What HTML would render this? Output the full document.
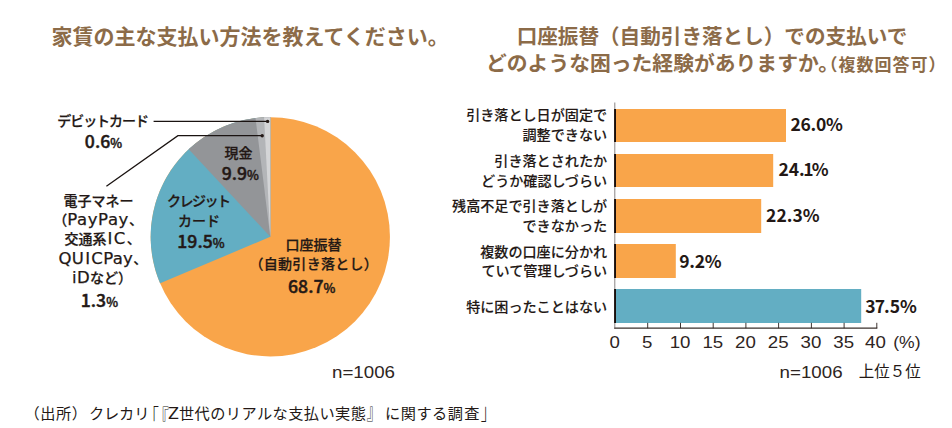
<!DOCTYPE html>
<html lang="ja"><head><meta charset="utf-8"><title>家賃の支払い方法</title>
<style>
html,body{margin:0;padding:0;background:#fff;}
body{width:952px;height:428px;overflow:hidden;}
svg{display:block;}
text{font-family:"Liberation Sans","Noto Sans CJK JP",sans-serif;fill:#231815;}
.t{font-family:"Noto Sans CJK JP","Liberation Sans",sans-serif;font-weight:700;fill:#8C6B48;font-size:20px;}
.l{font-family:"Noto Sans CJK JP","Liberation Sans",sans-serif;font-weight:500;font-size:14px;stroke:#231815;stroke-width:.25px;}
.b{font-family:"Noto Sans CJK JP","Liberation Sans",sans-serif;font-weight:500;stroke:#231815;stroke-width:.45px;}
.d{font-family:"DejaVu Sans","Liberation Sans",sans-serif;font-weight:400;font-size:16.5px;letter-spacing:.3px;}
.s{font-family:"Noto Sans CJK JP","Liberation Sans",sans-serif;font-weight:400;font-size:15.2px;letter-spacing:.55px;}
.a{font-family:"Liberation Sans",sans-serif;font-size:16.8px;fill:#2e2522;}
</style></head><body>
<svg width="952" height="428" viewBox="0 0 952 428">
<rect width="952" height="428" fill="#fff"/>
<!-- titles -->
<text class="t" x="250.2" y="44.4" text-anchor="middle" style="font-size:21px">家賃の主な支払い方法を教えてください。</text>
<text class="t" x="712" y="44" text-anchor="middle" style="font-size:20.6px">口座振替（自動引き落とし）での支払いで</text>
<text class="t" x="486" y="71" style="font-size:20.8px">どのような困った経験がありますか。</text>
<text class="t" x="820.4" y="70.5" style="font-size:17px;letter-spacing:1px">（複数回答可）</text>
<!-- pie -->
<circle cx="270.3" cy="236.8" r="119.65" fill="#F9A54A"/>
<path d="M270.3,236.8 L160.08,283.36 A119.65,119.65 0 0 1 270.30,117.15 Z" fill="#63AEC3"/>
<path d="M270.3,236.8 L188.70,149.29 A119.65,119.65 0 0 1 270.30,117.15 Z" fill="#939598"/>
<path d="M270.3,236.8 L255.51,118.07 A119.65,119.65 0 0 1 270.30,117.15 Z" fill="#B3B5B8"/>
<path d="M270.3,236.8 L264.08,117.31 A119.65,119.65 0 0 1 270.30,117.15 Z" fill="#D4D5D7"/>
<g stroke="#1a1311" stroke-width="1.3" fill="none">
<polyline points="153.6,121.4 267.6,121.4"/>
<polyline points="106.4,186.3 177.9,135.7 262.2,135.7"/>
</g>
<circle cx="267.6" cy="121.4" r="1.7" fill="#231815"/>
<circle cx="262.2" cy="135.7" r="1.7" fill="#231815"/>
<!-- pie labels -->
<text class="l" x="102.6" y="126" text-anchor="middle" style="letter-spacing:-1.05px">デビットカード</text>
<text class="b" x="103.5" y="148.2" text-anchor="middle" font-size="17.6" style="letter-spacing:.05px">0.6<tspan font-size="12.6">%</tspan></text>
<text class="l" x="98.6" y="205.5" text-anchor="middle">電子マネー</text>
<text class="l" x="53.2" y="225.3">（<tspan class="d" style="letter-spacing:.6px">PayPay</tspan>、</text>
<text class="l" x="64.4" y="244.2">交通系<tspan class="d" dx="1" style="letter-spacing:1.5px">IC</tspan>、</text>
<text class="l" x="58.5" y="263.8"><tspan class="d">QU</tspan><tspan class="d" dx="1">I</tspan><tspan class="d" dx="1">CPay</tspan>、</text>
<text class="l" x="72" y="283"><tspan class="d">iD</tspan>など）</text>
<text class="b" x="99.4" y="306.9" text-anchor="middle" font-size="17.6" style="letter-spacing:.05px">1.3<tspan font-size="12.6">%</tspan></text>
<text class="l" x="238.6" y="158.3" text-anchor="middle">現金</text>
<text class="b" x="240.3" y="180.3" text-anchor="middle" font-size="17.6" style="letter-spacing:.05px">9.9<tspan font-size="12.6">%</tspan></text>
<text class="l" x="198.2" y="206.4" text-anchor="middle" style="letter-spacing:-1.5px">クレジット</text>
<text class="l" x="199" y="226" text-anchor="middle">カード</text>
<text class="b" x="201" y="248" text-anchor="middle" font-size="17.6" style="letter-spacing:.05px">19.5<tspan font-size="12.6">%</tspan></text>
<text class="l" x="313.6" y="249.6" text-anchor="middle">口座振替</text>
<text class="l" x="313.8" y="269.2" text-anchor="middle" style="letter-spacing:.3px">（自動引き落とし）</text>
<text class="b" x="311.7" y="292.8" text-anchor="middle" font-size="17.6" style="letter-spacing:.05px">68.7<tspan font-size="12.6">%</tspan></text>
<text class="a" x="332" y="378" textLength="63" lengthAdjust="spacingAndGlyphs">n=1006</text>
<!-- bar chart -->
<rect x="615.0" y="109" width="171.0" height="33" fill="#F9A54A"/>
<rect x="615.0" y="154" width="158.2" height="33" fill="#F9A54A"/>
<rect x="615.0" y="199" width="146.2" height="34" fill="#F9A54A"/>
<rect x="615.0" y="244" width="60.8" height="34" fill="#F9A54A"/>
<rect x="615.0" y="289" width="246.2" height="34" fill="#63AEC3"/>

<g fill="none">
<line x1="614.8" y1="102.5" x2="614.8" y2="329" stroke="#6b6564" stroke-width="0.8"/>
<g stroke="#1a0f0c" stroke-width="1.9">
<line x1="615.05" y1="109" x2="615.05" y2="142"/><line x1="615.05" y1="154" x2="615.05" y2="187"/><line x1="615.05" y1="199" x2="615.05" y2="233"/><line x1="615.05" y1="244" x2="615.05" y2="278"/><line x1="615.05" y1="289" x2="615.05" y2="323"/>
</g>
<line x1="614.4" y1="328.2" x2="877.3" y2="328.2" stroke="#3a302d" stroke-width="1.3"/>
<g stroke="#2a1f1c" stroke-width="0.9"><line x1="647.7" y1="322.8" x2="647.7" y2="328.2"/><line x1="680.5" y1="322.8" x2="680.5" y2="328.2"/><line x1="713.2" y1="322.8" x2="713.2" y2="328.2"/><line x1="745.9" y1="322.8" x2="745.9" y2="328.2"/><line x1="778.6" y1="322.8" x2="778.6" y2="328.2"/><line x1="811.4" y1="322.8" x2="811.4" y2="328.2"/><line x1="844.1" y1="322.8" x2="844.1" y2="328.2"/><line x1="876.8" y1="322.8" x2="876.8" y2="328.2"/></g>
</g>
<g class="l" text-anchor="end" style="font-size:14.1px;stroke-width:.12px">
<text class="l" x="607.1" y="120.0" style="font-size:14.1px;stroke-width:.12px">引き落とし日が固定で</text>
<text class="l" x="607.1" y="139.9" style="font-size:14.1px;stroke-width:.12px">調整できない</text>
<text class="l" x="607.1" y="166.2" style="font-size:14.1px;stroke-width:.12px">引き落とされたか</text>
<text class="l" x="607.1" y="185.6" style="font-size:14.1px;stroke-width:.12px">どうか確認しづらい</text>
<text class="l" x="607.1" y="211.3" style="font-size:14.1px;stroke-width:.12px">残高不足で引き落としが</text>
<text class="l" x="607.1" y="230.8" style="font-size:14.1px;stroke-width:.12px">できなかった</text>
<text class="l" x="607.1" y="256.5" style="font-size:14.1px;stroke-width:.12px">複数の口座に分かれ</text>
<text class="l" x="607.1" y="276.4" style="font-size:14.1px;stroke-width:.12px">ていて管理しづらい</text>
<text class="l" x="607.1" y="312.3" style="font-size:14.1px;stroke-width:.12px">特に困ったことはない</text>
</g>
<g class="b" font-size="17.5" style="font-weight:700;stroke:none">
<text class="b" x="790.5" y="131.2" style="font-weight:700;stroke:none;letter-spacing:-.3px">26.0%</text>
<text class="b" x="778.4" y="176.2" style="font-weight:700;stroke:none">24.<tspan dx="-1.6">1</tspan><tspan dx="-1.6">%</tspan></text>
<text class="b" x="766.1" y="221.6" style="font-weight:700;stroke:none">22.3%</text>
<text class="b" x="679.2" y="268.1" style="font-weight:700;stroke:none;letter-spacing:-.25px">9.2%</text>
<text class="b" x="865.3" y="313.1" style="font-weight:700;stroke:none">3<tspan dx="-0.8">7</tspan><tspan dx="-1.2">.5%</tspan></text>
</g>
<g class="a">
<text class="a" x="609.4" y="348.2" textLength="10.4" lengthAdjust="spacingAndGlyphs">0</text>
<text class="a" x="642.1" y="348.2" textLength="10.4" lengthAdjust="spacingAndGlyphs">5</text>
<text class="a" x="669.7" y="348.2" textLength="20.8" lengthAdjust="spacingAndGlyphs">10</text>
<text class="a" x="702.4" y="348.2" textLength="20.8" lengthAdjust="spacingAndGlyphs">15</text>
<text class="a" x="735.1" y="348.2" textLength="20.8" lengthAdjust="spacingAndGlyphs">20</text>
<text class="a" x="767.8" y="348.2" textLength="20.8" lengthAdjust="spacingAndGlyphs">25</text>
<text class="a" x="800.6" y="348.2" textLength="20.8" lengthAdjust="spacingAndGlyphs">30</text>
<text class="a" x="833.3" y="348.2" textLength="20.8" lengthAdjust="spacingAndGlyphs">35</text>
<text class="a" x="865.1" y="348.2" textLength="20.8" lengthAdjust="spacingAndGlyphs">40</text>
</g>
<text class="a" x="893.2" y="347.6" textLength="27.3" lengthAdjust="spacingAndGlyphs">(%)</text>
<text class="a" x="779.6" y="377.8" textLength="63" lengthAdjust="spacingAndGlyphs">n=1006</text>
<text class="l" x="858.7" y="377.2" style="font-weight:400;font-size:15.5px;stroke:none">上位５位</text>
<!-- source -->
<text class="s" y="419.3"><tspan x="24.6">（出所）</tspan><tspan x="88.9" style="letter-spacing:-.1px">クレカリ</tspan><tspan x="167.9" class="d" style="font-size:16px;letter-spacing:0">Z</tspan><tspan x="178.9" style="letter-spacing:.45px">世代のリアルな支払い実態</tspan><tspan x="385.0" style="letter-spacing:.5px">に関する調</tspan><tspan dx="0.7">査</tspan></text>
<g class="s" style="font-weight:300" transform="translate(0,425.4) scale(1,1.39)"><text class="s" x="143.8" y="0" style="font-weight:300">「</text><text class="s" x="153.8" y="0" style="font-weight:300">『</text></g>
<g class="s" style="font-weight:300" transform="translate(0,419.45) scale(1,1.43)"><text class="s" x="366.6" y="0" style="font-weight:300">』</text><text class="s" x="480.8" y="0" style="font-weight:300">」</text></g>
</svg>
</body></html>
